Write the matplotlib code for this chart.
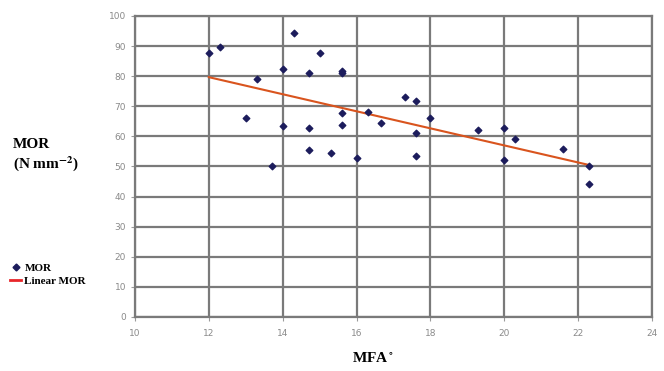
import numpy as np
import matplotlib.pyplot as plt
from matplotlib.lines import Line2D

plt.rcParams['mathtext.fontset'] = 'stix'

# Dados (MFA em graus, MOR em N mm-2)
mfa = [12.0, 12.3, 14.3, 15.0, 13.3, 14.0, 14.7, 15.6, 15.6, 13.0, 14.0, 14.7, 15.6, 15.6,
       16.3, 16.65, 14.7, 15.3, 16.0, 13.7, 17.3, 17.6, 18.0, 17.6, 17.6, 19.3, 20.0,
       20.3, 20.0, 21.6, 22.3, 22.3]
mor = [87.6, 89.8, 94.5, 87.6, 79.1, 82.3, 81.0, 81.7, 81.0, 66.1, 63.5, 62.9, 67.7, 63.8,
       68.0, 64.3, 55.5, 54.4, 52.9, 50.3, 73.2, 71.9, 66.2, 61.0, 53.6, 62.1, 62.9,
       59.0, 52.2, 55.8, 50.3, 44.2]

x_ticks = [10, 12, 14, 16, 18, 20, 22, 24]
y_ticks = [0, 10, 20, 30, 40, 50, 60, 70, 80, 90, 100]

# Regressão linear
coef = np.polyfit(mfa, mor, 1)
x_lin = np.array([min(mfa), max(mfa)])
y_lin = np.polyval(coef, x_lin)

fig = plt.figure(figsize=(6.64, 3.71), dpi=100)
ax = fig.add_axes([0.2033, 0.1456, 0.7787, 0.8113])

ax.scatter(mfa, mor, marker='D', s=11, color='#1c1c5c', zorder=3)
ax.plot(x_lin, y_lin, color='#d9541e', lw=1.5, zorder=2)

ax.set_xlim(10, 24)
ax.set_ylim(0, 100)
ax.set_xticks(x_ticks)
ax.set_yticks(y_ticks)
ax.grid(True, color='#7a7a7a', lw=1.6)
ax.set_axisbelow(True)
for s in ax.spines.values():
    s.set_color('#7a7a7a')
    s.set_linewidth(1.6)
ax.tick_params(colors='#9a9a9a', labelsize=6.5, length=3, width=0.8, labelcolor='#8a8a8a')
ax.tick_params(axis='x', pad=6)

# Rótulos dos eixos
fig.text(0.562, 0.035, 'MFA$^\\circ$', fontsize=11, fontweight='bold', family='Liberation Serif',
         ha='center', va='center')
fig.text(0.02, 0.58, 'MOR\n(N mm$^{\\mathbf{-2}}$)', fontsize=11, fontweight='bold', family='Liberation Serif',
         ha='left', va='center', linespacing=1.2)

# Legenda fora do gráfico
handles = [Line2D([], [], marker='D', ls='', color='#1c1c5c', markersize=3.5),
           Line2D([], [], color='#e8262a', lw=2)]
fig.legend(handles, ['MOR', 'Linear MOR'], loc='center left', bbox_to_anchor=(0.0, 0.26),
           frameon=False, handlelength=1.0, handletextpad=0.3, labelspacing=0.3,
           prop={'family': 'Liberation Serif', 'weight': 'bold', 'size': 8})

fig.savefig('out.png', dpi=100)
